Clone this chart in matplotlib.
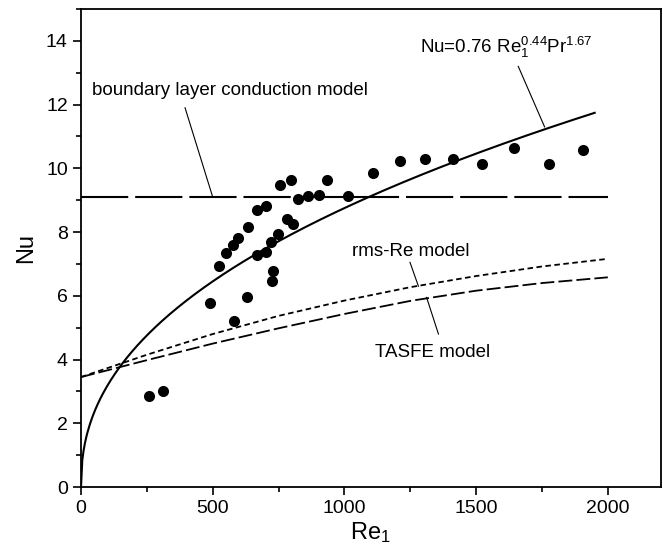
import numpy as np
import matplotlib
matplotlib.use("Agg")
import matplotlib.pyplot as plt
from matplotlib.ticker import MultipleLocator

plt.rcParams['font.family'] = ['Liberation Sans', 'DejaVu Sans']
plt.rcParams['mathtext.fontset'] = 'custom'
plt.rcParams['mathtext.rm'] = 'Liberation Sans'
plt.rcParams['mathtext.it'] = 'Liberation Sans'
plt.rcParams['lines.scale_dashes'] = False

# Measured data (Re1, Nu)
re_data = [260, 310, 490, 525, 549, 578, 581, 597, 631, 635, 668, 670, 702, 702,
           721, 725, 729, 748, 755, 782, 797, 805, 824, 862, 904, 934, 1014,
           1109, 1211, 1306, 1414, 1522, 1644, 1777, 1906]
nu_data = [2.85, 3.0, 5.76, 6.92, 7.34, 7.60, 5.21, 7.81, 5.97, 8.15, 8.68, 7.28,
           8.82, 7.37, 7.69, 6.46, 6.78, 7.94, 9.49, 8.41, 9.62, 8.26, 9.05, 9.12,
           9.15, 9.62, 9.12, 9.86, 10.22, 10.28, 10.28, 10.15, 10.65, 10.15, 10.59]

# Correlation Nu = 0.76 Re1^0.44 Pr^1.67
coef = 0.76
exp_re = 0.44
exp_pr = 1.67
pr = 0.70
re_max_fit = 1950

# Boundary layer conduction model (constant)
bl_re = [0, 2000]
bl_nu = [9.1, 9.1]

# rms-Re model and TASFE model
model_re = [0, 250, 500, 750, 1000, 1250, 1500, 1750, 2000]
rms_nu = [3.45, 4.15, 4.80, 5.37, 5.85, 6.27, 6.62, 6.92, 7.16]
tasfe_nu = [3.45, 3.98, 4.50, 4.98, 5.43, 5.84, 6.16, 6.40, 6.58]

fig = plt.figure(figsize=(6.63, 5.59), dpi=100)
ax = fig.add_axes([81/663, 72/559, 579.5/663, 478/559])

re_fit = np.linspace(0, re_max_fit, 400)
nu_fit = coef * re_fit**exp_re * pr**exp_pr
ax.plot(re_fit, nu_fit, color='black', lw=1.5)

ax.plot(bl_re, bl_nu, color='black', lw=1.5, dashes=(34, 5))
ax.plot(model_re, rms_nu, color='black', lw=1.3, dashes=(4, 2.5))
ax.plot(model_re, tasfe_nu, color='black', lw=1.3, dashes=(10, 3))

ax.scatter(re_data, nu_data, s=64, color='black', zorder=5, linewidths=0)

ax.set_xlim(0, 2200)
ax.set_ylim(0, 15)
ax.xaxis.set_major_locator(MultipleLocator(500))
ax.xaxis.set_minor_locator(MultipleLocator(250))
ax.yaxis.set_major_locator(MultipleLocator(2))
ax.yaxis.set_minor_locator(MultipleLocator(1))
ax.tick_params(which='major', direction='out', length=6, width=1.2, labelsize=14)
ax.tick_params(which='minor', direction='out', length=3.5, width=1.2)
for sp in ax.spines.values():
    sp.set_linewidth(1.3)

ax.set_xlabel('Re$_1$', fontsize=17, labelpad=2)
ax.set_ylabel('Nu', fontsize=17, labelpad=6)

fs = 13.5
ax.text(1287, 13.8, 'Nu=0.76 Re$_1^{0.44}$Pr$^{1.67}$', fontsize=fs, va='center', ha='left')
ax.plot([1660, 1760], [13.2, 11.3], color='black', lw=0.8)

ax.text(42, 12.45, 'boundary layer conduction model', fontsize=fs, va='center', ha='left')
ax.plot([395, 500], [11.9, 9.1], color='black', lw=0.8)

ax.text(1029, 7.4, 'rms-Re model', fontsize=fs, va='center', ha='left')
ax.plot([1249, 1281], [7.05, 6.3], color='black', lw=0.8)

ax.text(1116, 4.22, 'TASFE model', fontsize=fs, va='center', ha='left')
ax.plot([1312, 1357], [5.95, 4.8], color='black', lw=0.8)

fig.savefig('out.png', dpi=100)
